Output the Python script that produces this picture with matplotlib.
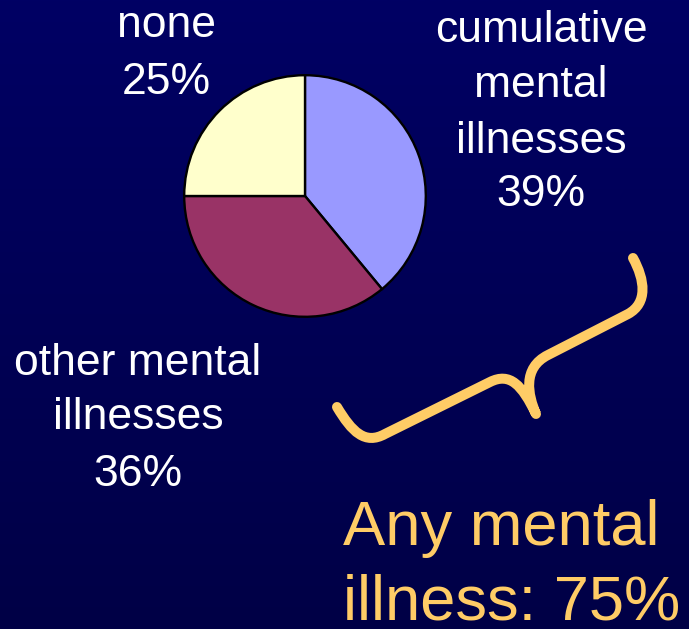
import numpy as np
import matplotlib
matplotlib.use("Agg")
import matplotlib.pyplot as plt
from matplotlib.path import Path
from matplotlib.patches import PathPatch

# Data
categories = ["cumulative mental illnesses", "other mental illnesses", "none"]
shares = [39, 36, 25]
slice_colors = ["#9999ff", "#993366", "#ffffcc"]
any_illness = shares[0] + shares[1]

W, H = 689, 629
fig = plt.figure(figsize=(W / 100, H / 100), dpi=100)

# Background: subtle vertical navy gradient
bg = fig.add_axes([0, 0, 1, 1])
grad = np.linspace(0, 1, 256).reshape(-1, 1)
top = np.array([0, 0, 100]) / 255
bot = np.array([0, 0, 70]) / 255
img = top + (bot - top) * grad[..., None]
bg.imshow(img, aspect="auto", extent=[0, W, H, 0])
bg.set_xlim(0, W)
bg.set_ylim(H, 0)
bg.axis("off")

# Pie
cx, cy, r = 305, 196, 122
pax = fig.add_axes([(cx - r) / W, (H - cy - r) / H, 2 * r / W, 2 * r / H])
pax.pie(shares, colors=slice_colors, startangle=90, counterclock=False,
        radius=1.0, wedgeprops=dict(edgecolor="black", linewidth=1.7))
pax.set_xlim(-1.01, 1.01)
pax.set_ylim(-1.01, 1.01)
pax.set_aspect("equal")
pax.axis("off")

font = "Liberation Sans"

def block(lines, x, baselines, size, color, ha="center"):
    for line, y in zip(lines, baselines):
        bg.text(x, y, line, ha=ha, va="baseline", fontsize=size,
                color=color, family=font)

block(["none", f"{shares[2]}%"], 166, [37, 94], 32, "white")
block(["cumulative", "mental", "illnesses", f"{shares[0]}%"], 541,
      [42, 97, 153, 206], 32, "white")
block(["other mental", "illnesses", f"{shares[1]}%"], 138,
      [375, 429, 486], 32, "white")
block(["Any mental", f"illness: {any_illness}%"], 343, [545, 619], 45.5,
      "#ffcc66", ha="left")

# Curly brace grouping the two illness slices
verts = [
    (337, 407),
    (352, 432), (365, 445), (385, 434),
    (490, 382),
    (510, 372), (522, 385), (536, 414),
    (528, 395), (522, 368), (548, 355),
    (628, 314),
    (648, 303), (645, 280), (633, 258),
]
codes = [Path.MOVETO,
         Path.CURVE4, Path.CURVE4, Path.CURVE4,
         Path.LINETO,
         Path.CURVE4, Path.CURVE4, Path.CURVE4,
         Path.CURVE4, Path.CURVE4, Path.CURVE4,
         Path.LINETO,
         Path.CURVE4, Path.CURVE4, Path.CURVE4]
brace = PathPatch(Path(verts, codes), facecolor="none", edgecolor="#ffcc66",
                  linewidth=7.2, capstyle="round", joinstyle="round")
bg.add_patch(brace)

fig.savefig("out.png", dpi=100)
